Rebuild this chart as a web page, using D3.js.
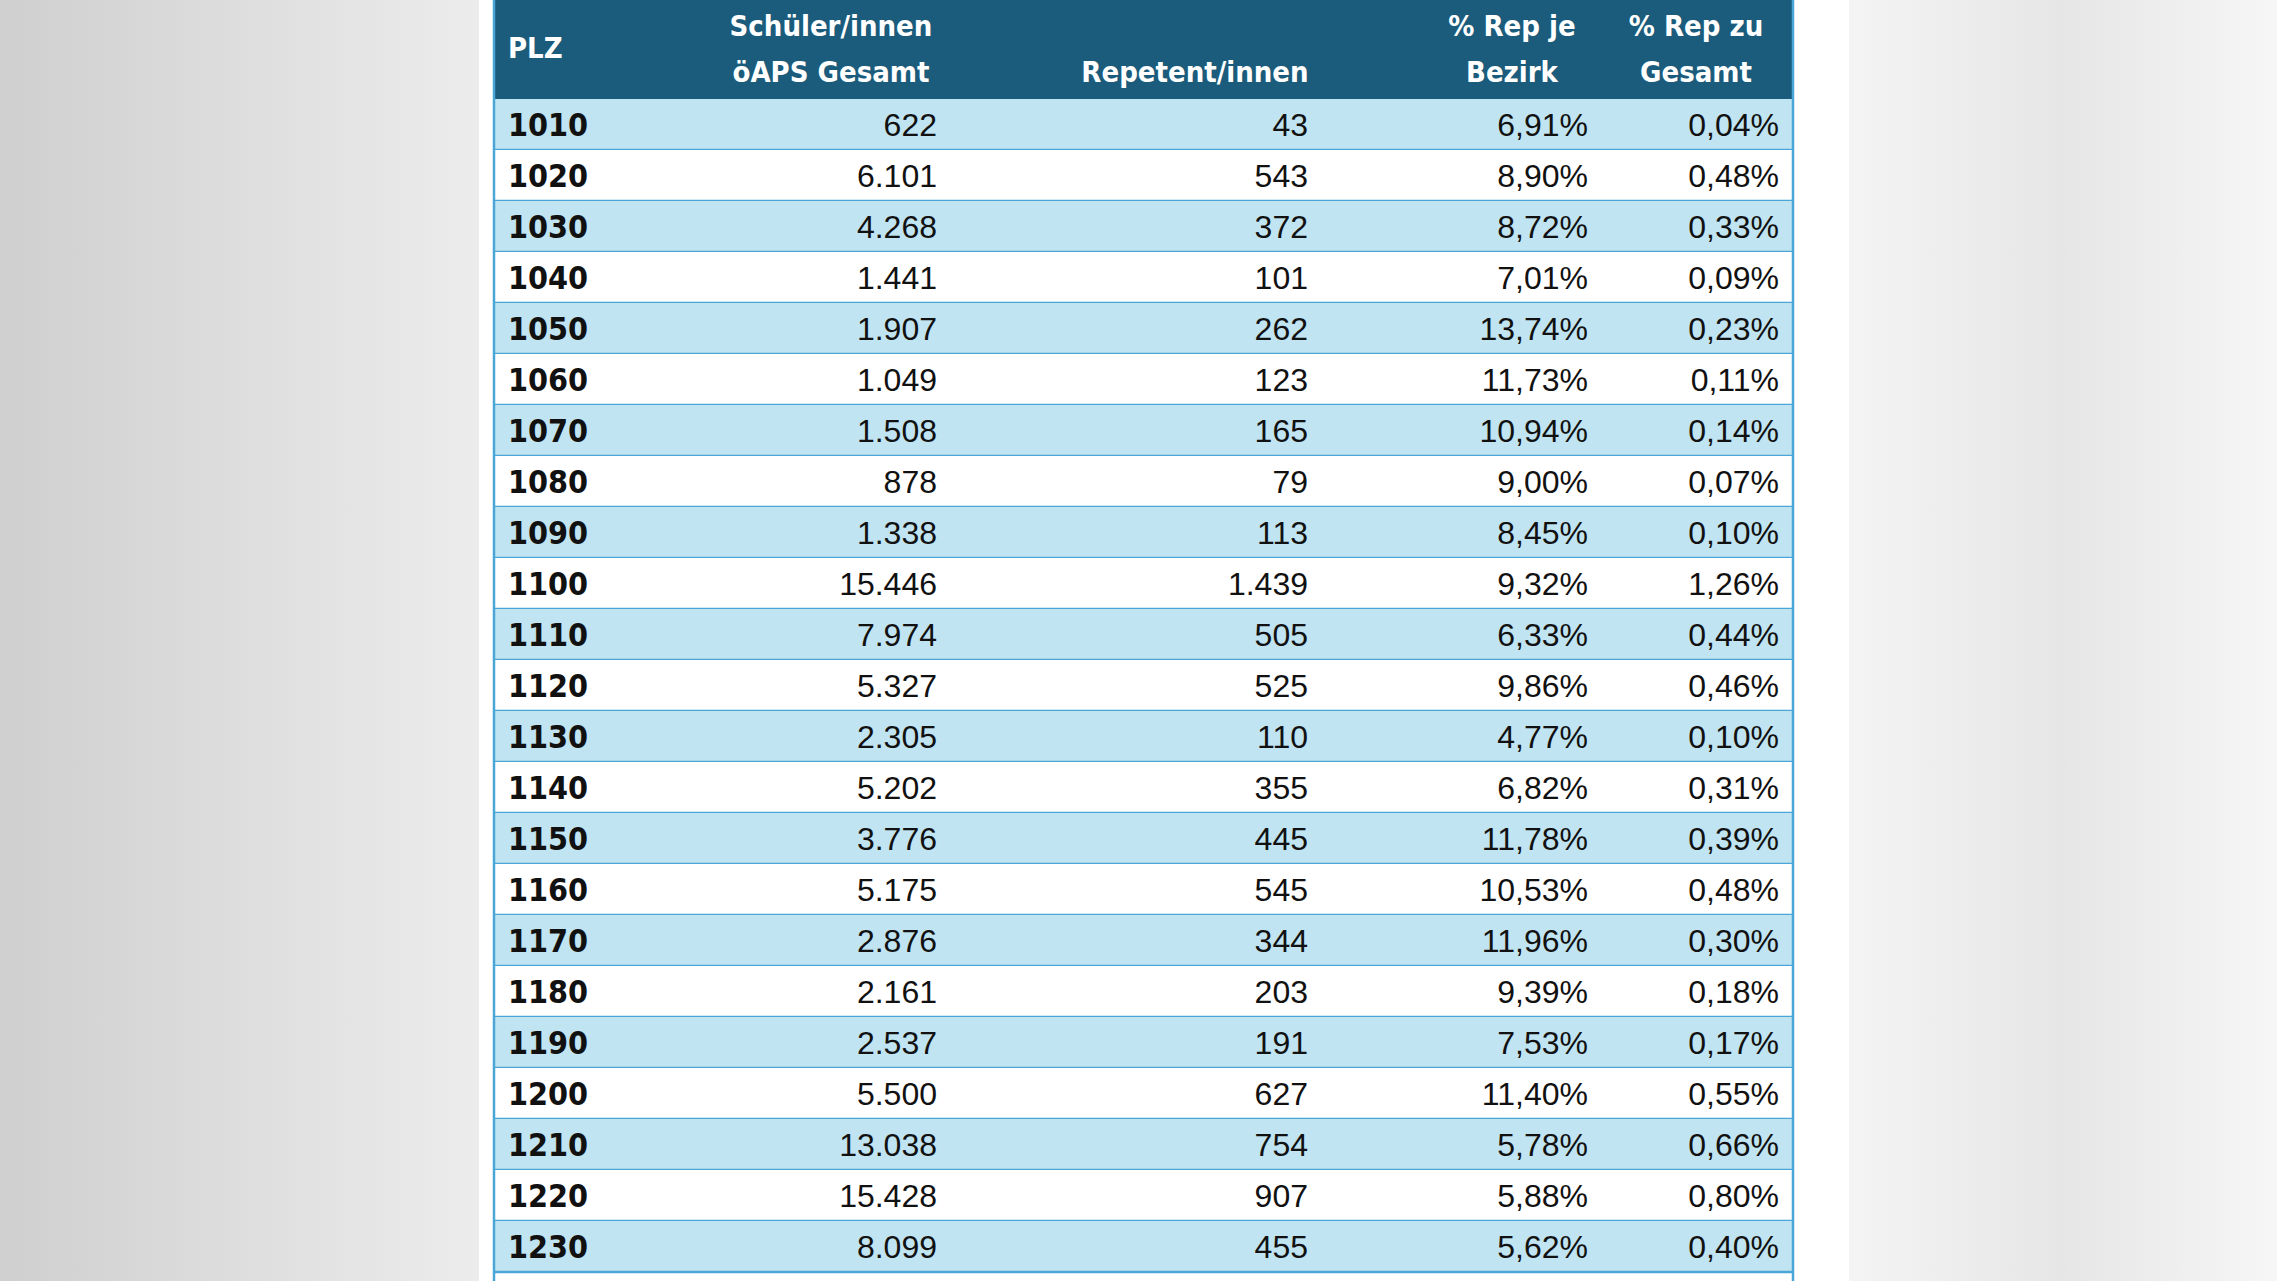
<!DOCTYPE html><html><head><meta charset="utf-8"><script src="https://cdn.jsdelivr.net/npm/d3@7"></script>
<style>body{margin:0;background:#fff}</style></head><body><svg id="c" width="2277" height="1281"></svg>
<script>
const plz=["1010","1020","1030","1040","1050","1060","1070","1080","1090","1100","1110","1120","1130","1140","1150","1160","1170","1180","1190","1200","1210","1220","1230"];
const schueler=["622","6.101","4.268","1.441","1.907","1.049","1.508","878","1.338","15.446","7.974","5.327","2.305","5.202","3.776","5.175","2.876","2.161","2.537","5.500","13.038","15.428","8.099"];
const repetenten=["43","543","372","101","262","123","165","79","113","1.439","505","525","110","355","445","545","344","203","191","627","754","907","455"];
const repBezirk=["6,91%","8,90%","8,72%","7,01%","13,74%","11,73%","10,94%","9,00%","8,45%","9,32%","6,33%","9,86%","4,77%","6,82%","11,78%","10,53%","11,96%","9,39%","7,53%","11,40%","5,78%","5,88%","5,62%"];
const repGesamt=["0,04%","0,48%","0,33%","0,09%","0,23%","0,11%","0,14%","0,07%","0,10%","1,26%","0,44%","0,46%","0,10%","0,31%","0,39%","0,48%","0,30%","0,18%","0,17%","0,55%","0,66%","0,80%","0,40%"];
const headers=[["PLZ"],["Schüler/innen","öAPS Gesamt"],["Repetent/innen"],["% Rep je","Bezirk"],["% Rep zu","Gesamt"]];
const svg=d3.select("#c");
const defs=svg.append("defs");
const g1=defs.append("linearGradient").attr("id","gl");
g1.append("stop").attr("offset","0").attr("stop-color","#cfcfcf");
g1.append("stop").attr("offset","1").attr("stop-color","#ececec");
const g2=defs.append("linearGradient").attr("id","gr");
g2.append("stop").attr("offset","0").attr("stop-color","#f4f4f4");
g2.append("stop").attr("offset","0.5").attr("stop-color","#e6e6e6");
g2.append("stop").attr("offset","1").attr("stop-color","#f6f6f6");
svg.append("rect").attr("x",0).attr("y",0).attr("width",479).attr("height",1281).attr("fill","url(#gl)");
svg.append("rect").attr("x",1849).attr("y",0).attr("width",428).attr("height",1281).attr("fill","url(#gr)");
const L=494,R=1793,H=99;
const y=d3.scaleBand().domain(plz).range([H,H+23*51]);
svg.append("rect").attr("x",L).attr("y",0).attr("width",R-L).attr("height",H).attr("fill","#1b5c7c");
const rows=svg.selectAll("g.r").data(plz).join("g").attr("transform",d=>`translate(0,${y(d)})`);
rows.append("rect").attr("x",L).attr("width",R-L).attr("height",y.bandwidth()).attr("fill",(d,i)=>i%2==0?"#c0e4f1":"#ffffff");
rows.append("line").attr("x1",L).attr("x2",R).attr("y1",y.bandwidth()).attr("y2",y.bandwidth()).attr("stroke","#4aa6d6").attr("stroke-width",2.5);
svg.append("line").attr("x1",L).attr("x2",L).attr("y1",0).attr("y2",1281).attr("stroke","#4aa6d6").attr("stroke-width",2.5);
svg.append("line").attr("x1",R).attr("x2",R).attr("y1",0).attr("y2",1281).attr("stroke","#4aa6d6").attr("stroke-width",2.5);
const cols=[{x:508,a:"start",v:plz,b:true},{x:937,a:"end",v:schueler},{x:1308,a:"end",v:repetenten},{x:1588,a:"end",v:repBezirk},{x:1779,a:"end",v:repGesamt}];
cols.forEach(c=>{
 rows.append("text").attr("x",c.x).attr("y",y.bandwidth()/2+11).attr("text-anchor",c.a)
 .attr("font-family",c.b?"'DejaVu Sans Condensed','DejaVu Sans'":"'Liberation Sans',Arial")
 .attr("font-weight",c.b?"900":"normal").attr("font-stretch",c.b?"condensed":"normal")
 .attr("font-size",c.b?32:32).attr("fill","#111").text((d,i)=>c.v[i]);
});
const hx=[508,831,1195,1512,1696], ha=["start","middle","middle","middle","middle"];
headers.forEach((h,i)=>{
 const t=svg.append("text").attr("x",hx[i]).attr("text-anchor",ha[i]).attr("font-family","'DejaVu Sans Condensed','DejaVu Sans'")
  .attr("font-weight","bold").attr("font-stretch","condensed").attr("font-size",29).attr("fill","#fff");
 const ys = h.length==2?[36,82]:(i==0?[58]:[82]);
 h.forEach((s,j)=>t.append("tspan").attr("x",hx[i]).attr("y",ys[j]).text(s));
});
</script></body></html>
